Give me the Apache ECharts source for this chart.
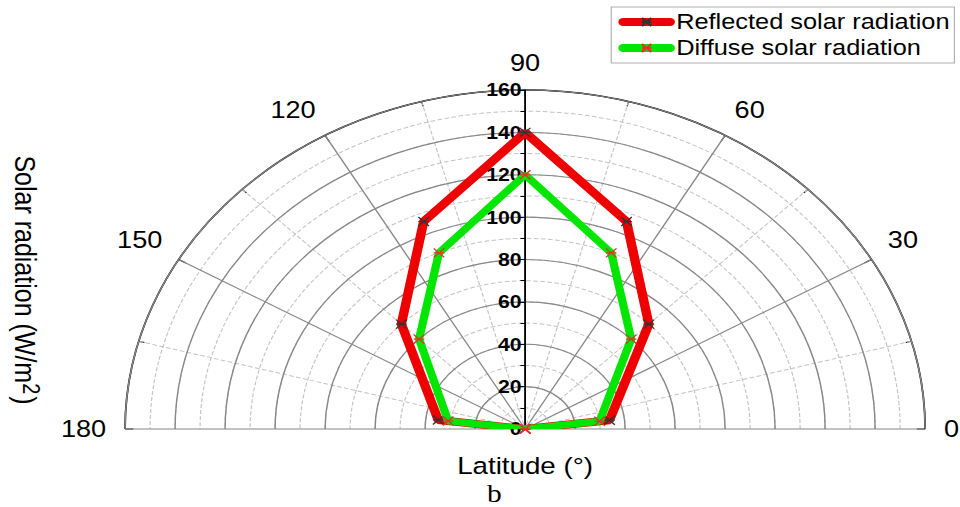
<!DOCTYPE html>
<html>
<head>
<meta charset="utf-8">
<script src="https://cdn.jsdelivr.net/npm/echarts@6/dist/echarts.min.js"></script>
<style>
  html, body { margin: 0; padding: 0; background: #fff; overflow: hidden; }
  /* the original figure is stretched sideways, polar in echarts is round, so stretch the page */
  #main { width: 813.6px; height: 507px; transform: scaleX(1.18); transform-origin: 0 0; }
</style>
</head>
<body>
<div id="main"></div>
<script>
// [radius, latitude angle]
const reflected = [[0, 0], [34, 7], [70, 45], [106, 67.5], [140, 90], [106, 112.5], [70, 135], [35, 173], [0, 180]];
const diffuse = [[0, 0], [30, 7], [60, 45], [90, 67.5], [120, 90], [90, 112.5], [60, 135], [31, 173], [0, 180]];
const seriesNames = ['Reflected solar radiation', 'Diffuse solar radiation'];
const angleTicks = [0, 30, 60, 90, 120, 150, 180];
const radiusTicks = [0, 20, 40, 60, 80, 100, 120, 140, 160];

const FONT = 'Liberation Sans, Arial, sans-serif';
const CENTER = [445, 429];
const R = 339;
const star = 'path://M0,0L10,10M10,0L0,10M0,5L10,5';

const chart = echarts.init(document.getElementById('main'), null, { renderer: 'svg' });

// half polar used twice: data + dashed rings, and solid rings
function halfAngle(idx, extra) {
  return Object.assign({
    polarIndex: idx,
    type: 'value',
    min: angleTicks[0],
    max: angleTicks[angleTicks.length - 1],
    interval: 30,
    startAngle: 0,
    endAngle: 180,
    clockwise: false
  }, extra);
}

const option = {
  backgroundColor: '#fff',
  textStyle: { fontFamily: FONT },
  legend: {
    orient: 'vertical',
    left: 518,
    top: 7,
    data: seriesNames,
    itemWidth: 40,
    itemHeight: 10,
    itemGap: 4,
    padding: [4, 4, 4, 6],
    borderColor: '#b0b0b0',
    borderWidth: 1,
    lineStyle: { width: 8, cap: 'round' },
    textStyle: { fontSize: 21.5, color: '#000', fontFamily: FONT }
  },
  polar: [
    { center: CENTER, radius: R },
    { center: CENTER, radius: R },
    { center: CENTER, radius: R }
  ],
  angleAxis: [
    halfAngle(0, {
      axisLine: { lineStyle: { color: '#000', width: 1.5 } },
      axisTick: { inside: true, length: 7, lineStyle: { color: '#000' } },
      minorTick: { show: true, splitNumber: 2, length: 5, lineStyle: { color: '#000' } },
      axisLabel: { fontSize: 23, color: '#000', margin: 16, fontFamily: FONT },
      splitLine: { show: true, lineStyle: { color: '#888', width: 1.2 } },
      minorSplitLine: { show: true, lineStyle: { color: '#c4c4c4', type: 'dashed' } }
    }),
    {
      polarIndex: 1,
      type: 'value',
      startAngle: 90,
      show: false
    },
    halfAngle(2, { show: false })
  ],
  radiusAxis: [
    {
      polarIndex: 0,
      type: 'value',
      min: 0,
      max: 160,
      interval: 10,
      axisLine: { show: false },
      axisTick: { show: false },
      axisLabel: { show: false },
      splitLine: { show: true, lineStyle: { color: '#c4c4c4', type: 'dashed' } }
    },
    {
      // the radial axis with its labels stands up the 90 line
      polarIndex: 1,
      type: 'value',
      min: radiusTicks[0],
      max: radiusTicks[radiusTicks.length - 1],
      interval: 20,
      z: 3,
      axisLine: { show: true, lineStyle: { color: '#000', width: 1.5 } },
      axisTick: { show: true, length: 6, lineStyle: { color: '#000' } },
      minorTick: { show: true, splitNumber: 2, length: 4, lineStyle: { color: '#000' } },
      axisLabel: { fontSize: 18, fontWeight: 'bold', color: '#000', margin: 3, fontFamily: FONT },
      splitLine: { show: false }
    },
    {
      polarIndex: 2,
      type: 'value',
      min: 0,
      max: 160,
      interval: 20,
      z: 1,
      axisLine: { show: false },
      axisTick: { show: false },
      axisLabel: { show: false },
      splitLine: { show: true, lineStyle: { color: '#888', width: 1.2 } }
    }
  ],
  graphic: [
    {
      type: 'text',
      x: 21, y: 280,
      rotation: -Math.PI / 2,
      style: {
        text: '{a|Solar radiation (W/m}{s|2}{a|)}',
        rich: {
          a: { font: '25px ' + FONT, fill: '#000' },
          s: { font: '20px ' + FONT, fill: '#000', verticalAlign: 'top', padding: [0, 2, 10, 0] }
        },
        textAlign: 'center',
        textVerticalAlign: 'middle'
      }
    },
    {
      type: 'text',
      x: 445, y: 466,
      style: {
        text: 'Latitude (°)',
        font: '23.5px ' + FONT,
        fill: '#000',
        textAlign: 'center',
        textVerticalAlign: 'middle'
      }
    },
    {
      type: 'text',
      x: 419, y: 494,
      style: {
        text: 'b',
        font: '25px Liberation Serif, serif',
        fill: '#000',
        textAlign: 'center',
        textVerticalAlign: 'middle'
      }
    }
  ],
  series: [
    {
      name: seriesNames[0],
      type: 'line',
      coordinateSystem: 'polar',
      polarIndex: 0,
      data: reflected,
      z: 5,
      color: '#ee0000',
      lineStyle: { color: '#ee0000', width: 8 },
      symbol: star,
      symbolSize: 9,
      itemStyle: { color: '#ee0000', borderColor: '#333', borderWidth: 1.2 }
    },
    {
      name: seriesNames[1],
      type: 'line',
      coordinateSystem: 'polar',
      polarIndex: 0,
      data: diffuse,
      z: 6,
      color: '#00e600',
      lineStyle: { color: '#00e600', width: 7 },
      symbol: star,
      symbolSize: 9,
      itemStyle: { color: '#00e600', borderColor: '#e83030', borderWidth: 1.2 }
    }
  ]
};

chart.setOption(option);
</script>
</body>
</html>
